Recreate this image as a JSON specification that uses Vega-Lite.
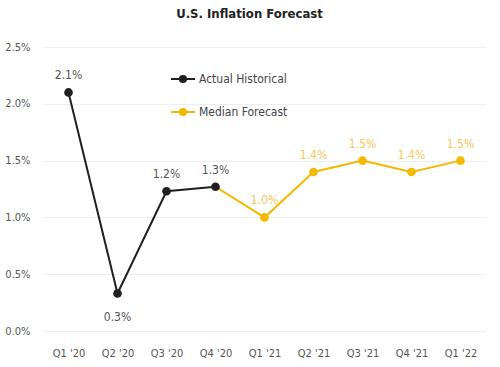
{
  "$schema": "https://vega.github.io/schema/vega-lite/v6.json",
  "width": 441,
  "height": 284,
  "autosize": "none",
  "padding": {"left": 44, "top": 47, "right": 15, "bottom": 36},
  "background": "white",
  "config": {
    "view": {"stroke": null},
    "font": "DejaVu Sans Condensed"
  },
  "title": {
    "text": "U.S. Inflation Forecast",
    "fontSize": 13,
    "fontWeight": "bold",
    "font": "DejaVu Sans Condensed",
    "color": "#222222",
    "anchor": "middle",
    "dx": -15,
    "offset": 20
  },
  "data": {
    "values": [
      {"quarter": "Q1 '20", "series": "Actual Historical", "value": 0.021},
      {"quarter": "Q2 '20", "series": "Actual Historical", "value": 0.0033},
      {"quarter": "Q3 '20", "series": "Actual Historical", "value": 0.0123},
      {"quarter": "Q4 '20", "series": "Actual Historical", "value": 0.0127},
      {"quarter": "Q1 '21", "series": "Median Forecast", "value": 0.0100},
      {"quarter": "Q2 '21", "series": "Median Forecast", "value": 0.0140},
      {"quarter": "Q3 '21", "series": "Median Forecast", "value": 0.0150},
      {"quarter": "Q4 '21", "series": "Median Forecast", "value": 0.0140},
      {"quarter": "Q1 '22", "series": "Median Forecast", "value": 0.0150}
    ]
  },
  "encoding": {
    "x": {
      "field": "quarter",
      "type": "ordinal",
      "sort": ["Q1 '20", "Q2 '20", "Q3 '20", "Q4 '20", "Q1 '21", "Q2 '21", "Q3 '21", "Q4 '21", "Q1 '22"],
      "scale": {"type": "point", "padding": 0.5},
      "axis": {
        "title": null,
        "labelAngle": 0,
        "ticks": false,
        "domain": false,
        "grid": false,
        "labelPadding": 16,
        "labelFontSize": 11,
        "labelColor": "#555555",
        "labelFont": "DejaVu Sans Condensed"
      }
    },
    "y": {
      "field": "value",
      "type": "quantitative",
      "scale": {"domain": [0, 0.025]},
      "axis": {
        "title": null,
        "format": ".1%",
        "values": [0, 0.005, 0.01, 0.015, 0.02, 0.025],
        "ticks": false,
        "domain": false,
        "gridColor": "#eeeeee",
        "gridWidth": 1,
        "labelPadding": 14,
        "labelFontSize": 11,
        "labelColor": "#555555",
        "labelFont": "DejaVu Sans Condensed"
      }
    }
  },
  "layer": [
    {
      "transform": [{"filter": "datum.series == 'Median Forecast' || datum.quarter == \"Q4 '20\""}],
      "mark": {"type": "line", "color": "#F5B800", "strokeWidth": 2},
      "encoding": {}
    },
    {
      "transform": [{"filter": "datum.series == 'Actual Historical'"}],
      "mark": {"type": "line", "color": "#231F20", "strokeWidth": 2},
      "encoding": {}
    },
    {
      "mark": {"type": "point", "filled": true, "size": 75, "opacity": 1},
      "encoding": {
        "color": {
          "field": "series",
          "type": "nominal",
          "scale": {"domain": ["Actual Historical", "Median Forecast"], "range": ["#231F20", "#F5B800"]},
          "legend": {
            "title": null,
            "orient": "none",
            "legendX": 126,
            "legendY": 19,
            "symbolType": "M-1,0H1M0.26,0A0.26,0.26,0,1,1,-0.26,0A0.26,0.26,0,1,1,0.26,0Z",
            "symbolSize": 576,
            "symbolStrokeWidth": 2,
            "symbolOpacity": 1,
            "labelFontSize": 12,
            "labelColor": "#444444",
            "labelFont": "DejaVu Sans Condensed",
            "labelOffset": 3,
            "rowPadding": 12,
            "encode": {
              "symbols": {
                "update": {
                  "fill": {"scale": "color", "field": "value"},
                  "stroke": {"scale": "color", "field": "value"},
                  "opacity": {"value": 1}
                }
              }
            }
          }
        }
      }
    },
    {
      "transform": [{"filter": "datum.series == 'Actual Historical' && datum.quarter != \"Q2 '20\""}],
      "mark": {"type": "text", "dy": -17, "fontSize": 12, "color": "#555555", "font": "DejaVu Sans Condensed"},
      "encoding": {"text": {"field": "value", "format": ".1%"}}
    },
    {
      "transform": [{"filter": "datum.quarter == \"Q2 '20\""}],
      "mark": {"type": "text", "dy": 23, "fontSize": 12, "color": "#555555", "font": "DejaVu Sans Condensed"},
      "encoding": {"text": {"field": "value", "format": ".1%"}}
    },
    {
      "transform": [{"filter": "datum.series == 'Median Forecast'"}],
      "mark": {"type": "text", "dy": -17, "fontSize": 12, "color": "#F5C75A", "font": "DejaVu Sans Condensed"},
      "encoding": {"text": {"field": "value", "format": ".1%"}}
    }
  ]
}
